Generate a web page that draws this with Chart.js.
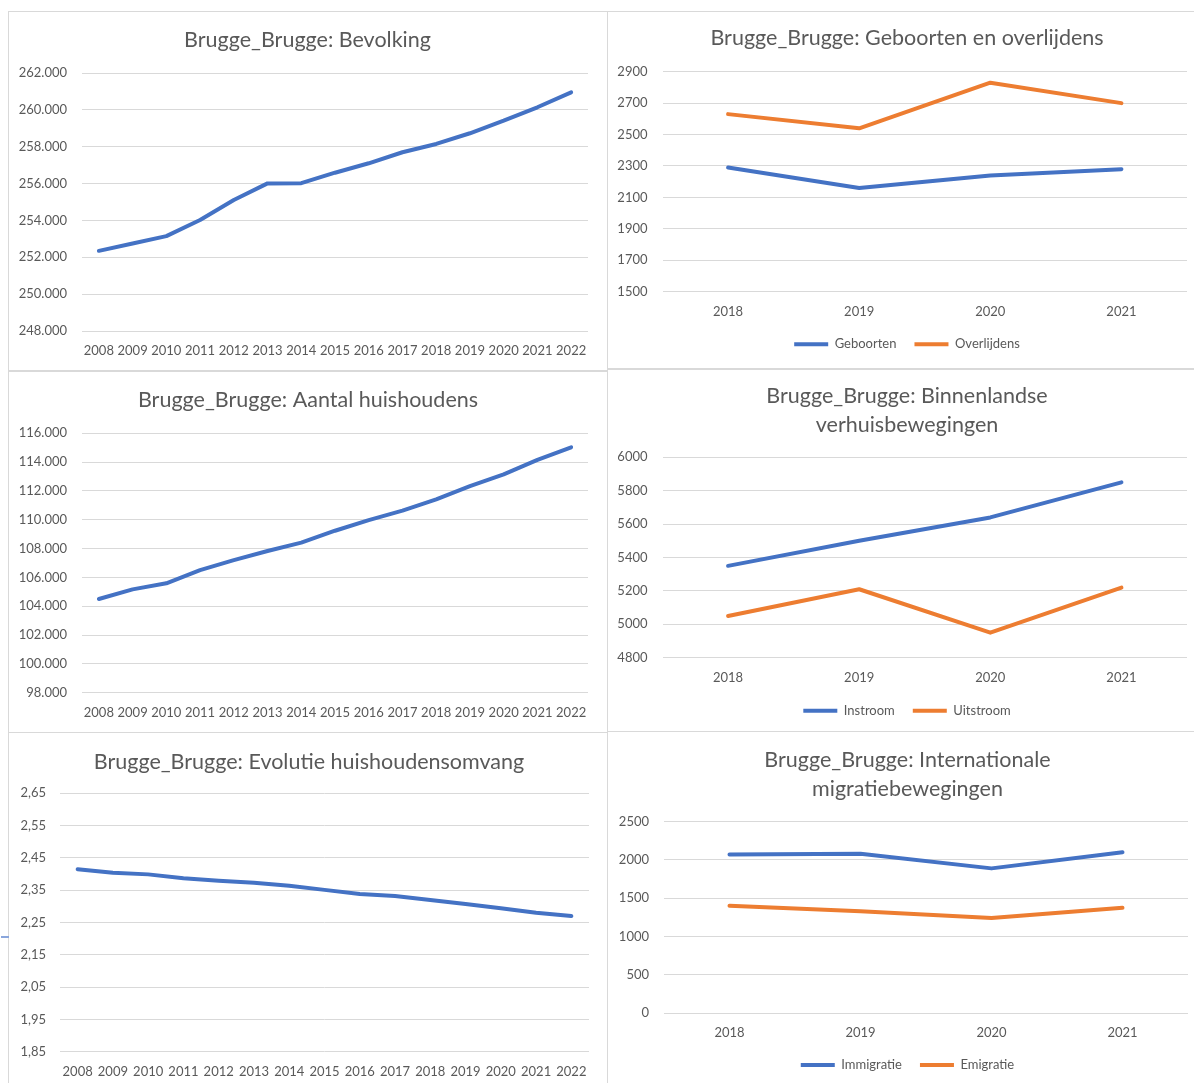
<!DOCTYPE html>
<html>
<head>
<meta charset="utf-8">
<script src="https://cdn.jsdelivr.net/npm/chart.js@4.4.1/dist/chart.umd.min.js"></script>
<style>
  html, body { margin: 0; padding: 0; background: #fff; }
  body { position: relative; width: 1194px; height: 1083px; overflow: hidden; }
  .frame { position: absolute; box-sizing: border-box; border: 1px solid #d9d9d9; }
  canvas { position: absolute; }
  .mark { position: absolute; left: 1px; top: 936px; width: 8px; height: 2px; background: #8aa6dc; }
</style>
</head>
<body>
<div class="frame" style="left:8px;top:11px;width:600px;height:360px"></div>
<div class="frame" style="left:607px;top:11px;width:588px;height:358px"></div>
<div class="frame" style="left:8px;top:371px;width:600px;height:362px"></div>
<div class="frame" style="left:607px;top:369px;width:588px;height:363px"></div>
<div class="frame" style="left:8px;top:732px;width:600px;height:352px"></div>
<div class="frame" style="left:607px;top:731px;width:588px;height:353px"></div>
<div class="mark"></div>

<canvas id="bevolking" width="599" height="359" style="left:8px;top:11px"></canvas>
<canvas id="geboorten" width="587" height="357" style="left:607px;top:11px"></canvas>
<canvas id="huishoudens" width="599" height="361" style="left:8px;top:371px"></canvas>
<canvas id="binnenlands" width="587" height="362" style="left:607px;top:369px"></canvas>
<canvas id="omvang" width="599" height="351" style="left:8px;top:732px"></canvas>
<canvas id="internationaal" width="587" height="352" style="left:607px;top:731px"></canvas>

<script>
// Jaren
const years15 = ['2008','2009','2010','2011','2012','2013','2014','2015','2016','2017','2018','2019','2020','2021','2022'];
const years4 = ['2018','2019','2020','2021'];

// Bevolking en huishoudens
const bevolking = [252350, 252750, 253150, 254020, 255110, 256010, 256020, 256590, 257100, 257700, 258150, 258730, 259410, 260140, 260950];
const huishoudens = [104500, 105170, 105590, 106510, 107200, 107830, 108410, 109240, 109980, 110630, 111420, 112340, 113150, 114150, 115030];
const huishoudensomvang = [2.415, 2.404, 2.399, 2.387, 2.379, 2.373, 2.364, 2.351, 2.338, 2.332, 2.320, 2.307, 2.294, 2.280, 2.270];

// Natuurlijke loop en verhuisbewegingen
const geboorten = [2290, 2160, 2240, 2280];
const overlijdens = [2630, 2540, 2830, 2700];
const instroom = [5350, 5500, 5640, 5850];
const uitstroom = [5050, 5210, 4950, 5220];
const immigratie = [2070, 2080, 1890, 2100];
const emigratie = [1400, 1330, 1240, 1375];

// Waarden op de y-assen
const bevolkingTicks = [248000, 250000, 252000, 254000, 256000, 258000, 260000, 262000];
const huishoudensTicks = [98000, 100000, 102000, 104000, 106000, 108000, 110000, 112000, 114000, 116000];
const omvangTicks = [1.85, 1.95, 2.05, 2.15, 2.25, 2.35, 2.45, 2.55, 2.65];
const geboortenTicks = [1500, 1700, 1900, 2100, 2300, 2500, 2700, 2900];
const binnenlandsTicks = [4800, 5000, 5200, 5400, 5600, 5800, 6000];
const internationaalTicks = [0, 500, 1000, 1500, 2000, 2500];

const BLUE = '#4472C4';
const ORANGE = '#ED7D31';
const TEXT = '#595959';
const GRID = '#d9d9d9';
const TITLE_SIZE = 21.5;

Chart.defaults.font.family = 'Lato, "Liberation Sans", sans-serif';

const thousands = v => String(Math.round(v)).replace(/\B(?=(\d{3})+(?!\d))/g, '.');
const plain = v => String(Math.round(v));
const comma2 = v => v.toFixed(2).replace('.', ',');

// g: canvas size, plot box, title line centre/step, axis sizes
function lineChart(id, o) {
  const g = o.geo;
  const lines = Array.isArray(o.title) ? o.title.length : 1;
  const step = g.titleStep || TITLE_SIZE * 1.2;
  const tTop = g.titleY - step / 2;
  const tBottom = g.top - tTop - lines * step;
  const legendH = o.legend ? (13 + 18 + 10) : 0;
  const padR = g.w - g.right;
  const yWidth = g.left - g.padL;
  const padB = g.h - g.bottom - g.xh - legendH;
  return new Chart(document.getElementById(id), {
    type: 'line',
    data: {
      labels: o.labels,
      datasets: o.series.map(s => ({
        label: s.label,
        data: s.data,
        borderColor: s.color,
        backgroundColor: s.color,
        borderWidth: 4,
        pointRadius: 0,
        pointHoverRadius: 0,
        tension: 0,
        fill: false,
        borderCapStyle: 'round',
        borderJoinStyle: 'round'
      }))
    },
    options: {
      responsive: false,
      animation: false,
      devicePixelRatio: 1,
      layout: { padding: { left: g.padL, right: padR, top: 0, bottom: padB } },
      plugins: {
        tooltip: { enabled: false },
        title: {
          display: true,
          text: o.title,
          color: TEXT,
          font: { size: TITLE_SIZE, weight: 'normal', lineHeight: step / TITLE_SIZE },
          padding: { top: tTop, bottom: tBottom }
        },
        legend: o.legend ? {
          display: true,
          position: 'bottom',
          labels: {
            color: TEXT,
            font: { size: 13 },
            usePointStyle: true,
            pointStyle: 'line',
            pointStyleWidth: 34,
            padding: 18
          }
        } : { display: false }
      },
      scales: {
        x: {
          offset: true,
          grid: { display: false, drawTicks: false },
          border: { display: false },
          ticks: { color: TEXT, font: { size: 13 }, padding: 12, autoSkip: false, maxRotation: 0 },
          afterFit: s => { s.height = g.xh; }
        },
        y: {
          min: o.ticks[0],
          max: o.ticks[o.ticks.length - 1],
          grid: { color: GRID, lineWidth: 1, drawTicks: false },
          border: { display: false },
          ticks: { color: TEXT, font: { size: 13 }, padding: g.tickPad, callback: v => o.fmt(v) },
          afterBuildTicks: s => { s.ticks = o.ticks.map(v => ({ value: v })); },
          afterFit: s => {
            s.width = yWidth;
            // the axis box is narrower than its labels; let them extend to the left
            s._computeLabelArea = () => undefined;
          }
        }
      }
    }
  });
}

lineChart('bevolking', {
  title: 'Brugge_Brugge: Bevolking',
  labels: years15,
  series: [{ label: 'Bevolking', data: bevolking, color: BLUE }],
  ticks: bevolkingTicks, fmt: thousands, legend: false,
  geo: { w: 599, h: 359, padL: 19, left: 74, right: 580, top: 62, bottom: 320, titleY: 29, xh: 30, tickPad: 15 }
});

lineChart('geboorten', {
  title: 'Brugge_Brugge: Geboorten en overlijdens',
  labels: years4,
  series: [
    { label: 'Geboorten', data: geboorten, color: BLUE },
    { label: 'Overlijdens', data: overlijdens, color: ORANGE }
  ],
  ticks: geboortenTicks, fmt: plain, legend: true,
  geo: { w: 587, h: 357, padL: 20, left: 55.5, right: 580, top: 60.7, bottom: 280.7, titleY: 27.3, xh: 28, tickPad: 15 }
});

lineChart('huishoudens', {
  title: 'Brugge_Brugge: Aantal huishoudens',
  labels: years15,
  series: [{ label: 'Aantal huishoudens', data: huishoudens, color: BLUE }],
  ticks: huishoudensTicks, fmt: thousands, legend: false,
  geo: { w: 599, h: 361, padL: 20, left: 74, right: 580, top: 62.3, bottom: 321.7, titleY: 29, xh: 30, tickPad: 15 }
});

lineChart('binnenlands', {
  title: ['Brugge_Brugge: Binnenlandse', 'verhuisbewegingen'],
  labels: years4,
  series: [
    { label: 'Instroom', data: instroom, color: BLUE },
    { label: 'Uitstroom', data: uitstroom, color: ORANGE }
  ],
  ticks: binnenlandsTicks, fmt: plain, legend: true,
  geo: { w: 587, h: 362, padL: 20, left: 55.5, right: 580, top: 88.3, bottom: 288.7, titleY: 27, titleStep: 29, xh: 28.5, tickPad: 15 }
});

lineChart('omvang', {
  title: 'Brugge_Brugge: Evolutie huishoudensomvang',
  labels: years15,
  series: [{ label: 'Huishoudensomvang', data: huishoudensomvang, color: BLUE }],
  ticks: omvangTicks, fmt: comma2, legend: false,
  geo: { w: 599, h: 351, padL: 21, left: 52, right: 581, top: 61.3, bottom: 319.7, titleY: 29.7, xh: 30, tickPad: 14 }
});

lineChart('internationaal', {
  title: ['Brugge_Brugge: Internationale', 'migratiebewegingen'],
  labels: years4,
  series: [
    { label: 'Immigratie', data: immigratie, color: BLUE },
    { label: 'Emigratie', data: emigratie, color: ORANGE }
  ],
  ticks: internationaalTicks, fmt: plain, legend: true,
  geo: { w: 587, h: 352, padL: 20, left: 57, right: 581, top: 90.7, bottom: 282, titleY: 29, titleStep: 29.3, xh: 27.5, tickPad: 15 }
});
</script>
</body>
</html>
